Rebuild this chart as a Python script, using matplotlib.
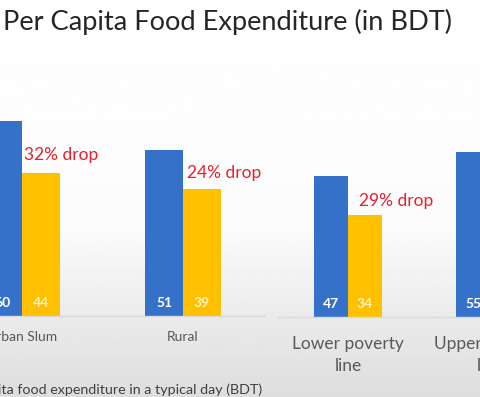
import numpy as np
import matplotlib
matplotlib.use('Agg')
import matplotlib.pyplot as plt

plt.rcParams['font.family'] = ['Lato', 'DejaVu Sans']

# data
left_cats = ['Urban Slum', 'Rural']
left_before = [60, 51]
left_after = [44, 39]
left_drop = ['32% drop', '24% drop']

right_cats = ['Lower poverty\nline', 'Upper poverty\nline']
right_before = [47, 55]
right_after = [34, 42]
right_drop = ['29% drop', '']

title = 'Per Capita Food Expenditure (in BDT)'
footnote = 'Per capita food expenditure in a typical day (BDT)'

BLUE = '#3571c8'
GOLD = '#ffc000'
RED = '#e8202e'

W, H = 480, 397
fig = plt.figure(figsize=(W / 100, H / 100), dpi=100)

# faint grey video-frame gradient in the background
bg = fig.add_axes([0, 0, 1, 1], zorder=-10)
rows = np.linspace(0, 1, 200)
shade = np.interp(rows, [0, 0.58, 0.80, 1.0], [1.0, 0.985, 0.92, 0.87])
bg.imshow(shade[:, None], cmap='gray', vmin=0, vmax=1, aspect='auto',
          extent=[0, 1, 1, 0])
bg.set_axis_off()


def px_axes(x0, x1, base):
    # axes from pixel x0..x1, baseline at pixel row `base`, top at figure top
    return fig.add_axes([x0 / W, (H - base) / H, (x1 - x0) / W, base / H])


def draw_group(ax, cats, before, after, drops, width, val_size, cat_size,
               drop_dx, drop_dy, label_pad, spacing):
    x = np.arange(len(cats))
    b1 = ax.bar(x - width / 2, before, width, color=BLUE, zorder=2)
    b2 = ax.bar(x + width / 2, after, width, color=GOLD, zorder=2)
    for bars, col in ((b1, 'white'), (b2, '#fff3c4')):
        for r in bars:
            ax.annotate(str(int(r.get_height())),
                        (r.get_x() + r.get_width() / 2, 0),
                        xytext=(0, 9.5), textcoords='offset points',
                        ha='center', va='center', color=col,
                        fontsize=val_size, fontweight='bold', zorder=3)
    for i, (r, txt) in enumerate(zip(b2, drops)):
        if txt:
            ax.annotate(txt, (r.get_x(), r.get_height()),
                        xytext=(drop_dx[i], drop_dy[i]),
                        textcoords='offset points', ha='left', va='center',
                        color=RED, fontsize=12.5)
    ax.set_xticks(x)
    ax.set_xticklabels(cats, fontsize=cat_size, color='#595959',
                       linespacing=spacing)
    ax.tick_params(axis='x', length=0, pad=label_pad)
    ax.set_yticks([])
    for s in ('top', 'left', 'right'):
        ax.spines[s].set_visible(False)
    ax.spines['bottom'].set_color('#d9d9d9')
    ax.spines['bottom'].set_linewidth(1.0)
    ax.patch.set_alpha(0)


# left chart: group centres at px 22 and 183, 3.25 px per BDT
axl = px_axes(-139, 265, 316)
axl.set_xlim((-139 - 22) / 161, (265 - 22) / 161)
axl.set_ylim(0, 316 / 3.25)
draw_group(axl, left_cats, left_before, left_after, left_drop, 38 / 161,
           10, 10, [1.5, 3], [13, 11.5], 10.5, 1.25)

# right chart: group centres at px 348 and 490, 3.0 px per BDT
axr = px_axes(278, 632, 317)
axr.set_xlim((278 - 348) / 142, (632 - 348) / 142)
axr.set_ylim(0, 317 / 3.0)
draw_group(axr, right_cats, right_before, right_after, right_drop, 34 / 142,
           10, 12.5, [8, 8], [10, 10], 14, 1.45)

fig.text(3 / W, 1 - 22 / H, title, fontsize=19.6, color='#262626',
         ha='left', va='center')
fig.text(262 / W, 1 - 390 / H, footnote, fontsize=10.3, color='#404040',
         ha='right', va='center')

fig.savefig('out.png', dpi=100)
